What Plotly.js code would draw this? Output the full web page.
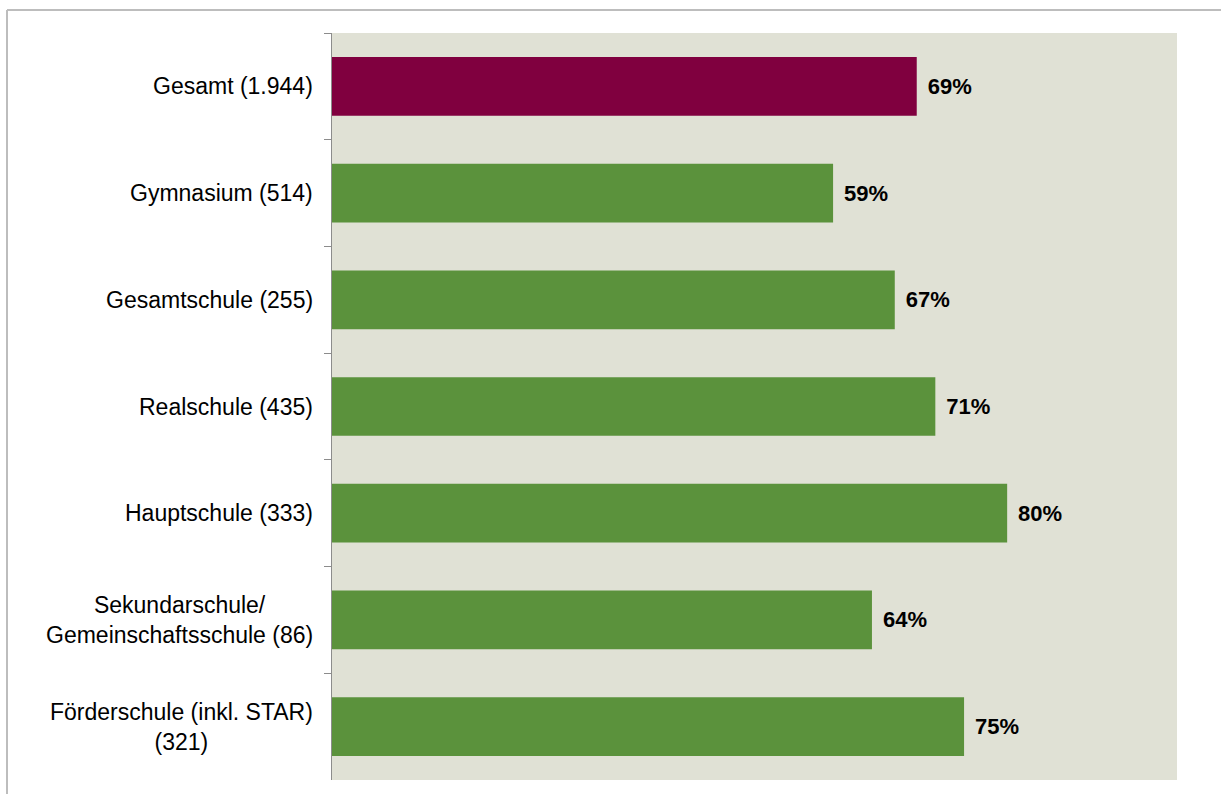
<!DOCTYPE html>
<html>
<head>
<meta charset="utf-8">
<script src="https://cdn.plot.ly/plotly-3.0.1.min.js"></script>
<style>html,body{margin:0;padding:0;background:#fff;}#chart{width:1221px;height:794px;}</style>
</head>
<body>
<div id="chart"></div>
<script>
const categories = [
  "Gesamt (1.944)",
  "Gymnasium (514)",
  "Gesamtschule (255)",
  "Realschule (435)",
  "Hauptschule (333)",
  "Sekundarschule/<br>Gemeinschaftsschule (86)",
  "Förderschule (inkl. STAR)<br>(321)"
];
const values = [69.2, 59.3, 66.6, 71.4, 79.9, 63.9, 74.8];
const barColors = ["#80003F", "#5B923C", "#5B923C", "#5B923C", "#5B923C", "#5B923C", "#5B923C"];

const trace = {
  type: "bar",
  orientation: "h",
  y: categories,
  x: values,
  marker: {color: barColors, line: {width: 0}},
  width: 0.55,
  text: values.map(v => Math.round(v) + "%"),
  texttemplate: " \u200A%{text}",
  textposition: "outside",
  cliponaxis: false,
  textfont: {family: "Liberation Sans, Arial, sans-serif", size: 22, color: "#000", weight: "bold"},
  hoverinfo: "skip"
};

const annotations = categories.map(c => ({
  xref: "paper", yref: "y", x: 0, y: c, xanchor: "right", yanchor: "middle",
  xshift: -17, text: c, showarrow: false, align: "center",
  font: {family: "Liberation Sans, Arial, sans-serif", size: 23, color: "#000"}
}));

const layout = {
  width: 1221, height: 794,
  margin: {l: 332, r: 44, t: 33, b: 14},
  paper_bgcolor: "#ffffff",
  plot_bgcolor: "#E0E1D5",
  showlegend: false,
  bargap: 0.45,
  xaxis: {range: [0, 100], showgrid: false, zeroline: false, showticklabels: false, ticks: "", showline: false, fixedrange: true},
  yaxis: {
    type: "category", autorange: "reversed", showticklabels: false,
    ticks: "outside", tickson: "boundaries", ticklen: 7, tickcolor: "#8c8c8c", tickwidth: 1,
    showline: true, linecolor: "#8c8c8c", linewidth: 1.5, showgrid: false, zeroline: false
  },
  annotations: annotations,
  shapes: [
    {type: "line", xref: "paper", yref: "paper", x0: (7-332)/845, x1: (1230-332)/845, y0: (780-10)/747, y1: (780-10)/747, line: {color: "#BDBDBD", width: 2}},
    {type: "line", xref: "paper", yref: "paper", x0: (7-332)/845, x1: (7-332)/845, y0: (780-10)/747, y1: (780-800)/747, line: {color: "#BDBDBD", width: 2}}
  ]
};

Plotly.newPlot("chart", [trace], layout, {displayModeBar: false, staticPlot: true});
</script>
</body>
</html>
